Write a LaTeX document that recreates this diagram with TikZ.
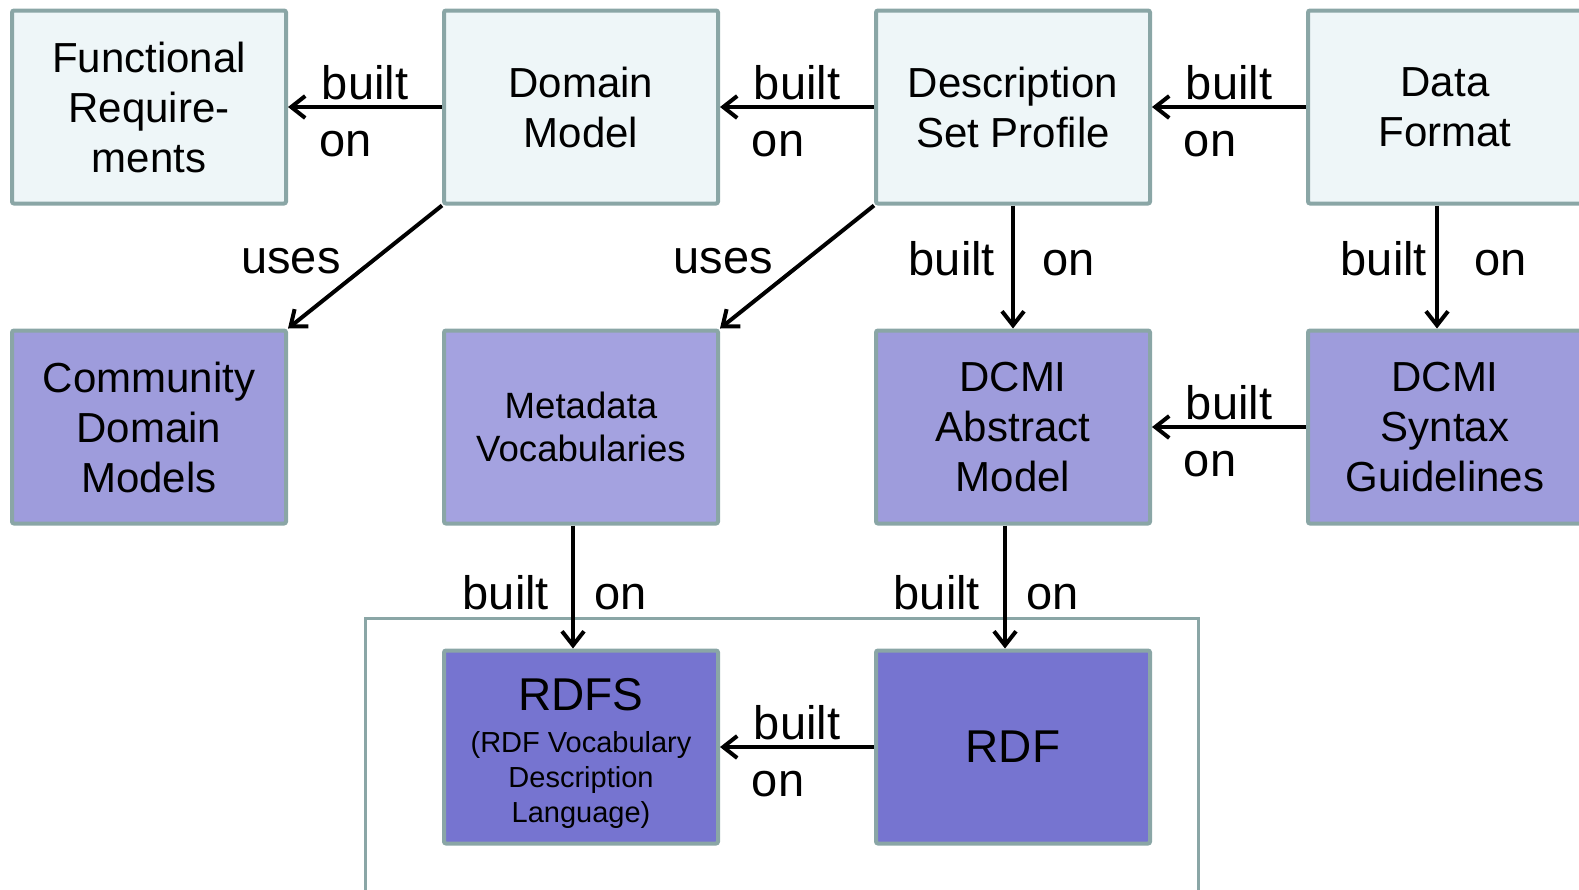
\documentclass[tikz,border=0pt]{standalone}
\usepackage{fontspec}
\setmainfont{Liberation Sans}
\usetikzlibrary{arrows.meta}
\definecolor{boxline}{HTML}{8AA6A6}
\definecolor{pale}{HTML}{EEF6F8}
\definecolor{lilac}{HTML}{9E9CDC}
\definecolor{lilaclight}{HTML}{A4A2E0}
\definecolor{deepviolet}{HTML}{7674D0}

\begin{document}
\begin{tikzpicture}
	[x=0.5pt,y=-0.5pt,
	box/.style={rectangle, draw=boxline, line width=2pt, rounded corners=1pt, minimum width=137pt, minimum height=96.5pt, inner sep=0pt, align=center, font=\fontsize{21}{25}\selectfont},
	pbox/.style={box, fill=pale},
	mbox/.style={box, fill=lilac},
	dbox/.style={box, fill=deepviolet},
	arr/.style={line width=2pt, -{Straight Barb[length=7pt,width=11pt]}},
	lab/.style={inner sep=0pt, font=\fontsize{23.5}{28}\selectfont},
	hb/.style={lab, anchor=base, yshift=4pt},
	ho/.style={lab, anchor=base, xshift=-9.5pt, yshift=-24.5pt},
	vb/.style={lab, anchor=base east},
	vo/.style={lab, anchor=base west}]
	\useasboundingbox (0,0) rectangle (1579,889);
	
	% frame round the RDF layer
	\draw[draw=boxline, line width=1.5pt] (365,618) rectangle (1198,897);
	
	\node[pbox] (fr) at (149,107) {Functional\\Require-\\ments};
	\node[pbox] (dm) at (581,107) {Domain\\Model};
	\node[pbox] (dsp) at (1013,107) {Description\\Set Profile};
	\node[pbox] (df) at (1445,107) {Data\\Format};
	
	\node[mbox] (cdm) at (149,427) {Community\\Domain\\Models};
	\node[mbox, fill=lilaclight, font=\fontsize{18.3}{21.6}\selectfont] (mv) at (581,427) {Metadata\\Vocabularies};
	\node[mbox] (dam) at (1013,427) {DCMI\\Abstract\\Model};
	\node[mbox] (sg) at (1445,427) {DCMI\\Syntax\\Guidelines};
	
	\node[dbox, font=\fontsize{14.5}{17.5}\selectfont] (rdfs) at (581,747) {{\fontsize{23}{28}\selectfont\rule{0pt}{22.5pt}RDFS}\\[3.5pt](RDF Vocabulary\\Description\\Language)};
	\node[dbox, font=\fontsize{23}{28}\selectfont] (rdf) at (1013,747) {RDF};
	
	% horizontal
	\draw[arr] (dm) -- node[hb] {built} node[ho] {on} (fr);
	\draw[arr] (dsp) -- node[hb] {built} node[ho] {on} (dm);
	\draw[arr] (df) -- node[hb] {built} node[ho] {on} (dsp);
	\draw[arr] (sg) -- node[hb] {built} node[ho] {on} (dam);
	\draw[arr] (rdf) -- node[hb] {built} node[ho] {on} (rdfs);
	
	% vertical
	\draw[arr] (dsp) -- node[vb, pos=0.567, xshift=-8pt] {built} node[vo, pos=0.567, xshift=13.5pt] {on} (dam);
	\draw[arr] ([xshift=-4pt]df.south) -- node[vb, pos=0.567, xshift=-4pt] {built} node[vo, pos=0.567, xshift=17.5pt] {on} ([xshift=-4pt]sg.north);
	\draw[arr] ([xshift=-4pt]mv.south) -- node[vb, pos=0.685, xshift=-11pt] {built} node[vo, pos=0.685, xshift=9.5pt] {on} ([xshift=-4pt]rdfs.north);
	\draw[arr] ([xshift=-4pt]dam.south) -- node[vb, pos=0.685, xshift=-11.5pt] {built} node[vo, pos=0.685, xshift=9.5pt] {on} ([xshift=-4pt]rdf.north);
	
	% uses
	\draw[arr] (dm.south west) -- node[lab, xshift=-37pt, yshift=3pt] {uses} (cdm.north east);
	\draw[arr] (dsp.south west) -- node[lab, xshift=-37pt, yshift=3pt] {uses} (mv.north east);
\end{tikzpicture}
\end{document}
